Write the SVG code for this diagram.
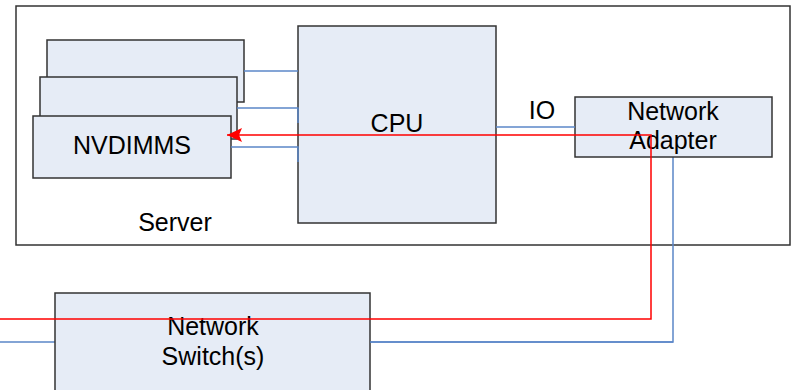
<svg xmlns="http://www.w3.org/2000/svg" width="792" height="390" viewBox="0 0 792 390">
  <style>
    .box { fill: #E6ECF6; stroke: #333333; stroke-width: 1.5; }
    .frame { fill: #FFFFFF; stroke: #333333; stroke-width: 1.5; }
    .link { fill: none; stroke: #5B87C8; stroke-width: 1.5; }
    .data { fill: none; stroke: #FF0000; stroke-width: 1.5; }
    text { font-family: "Liberation Sans", Arial, sans-serif; font-size: 25px; fill: #000000; text-anchor: middle; }
  </style>
  <defs>
    <marker id="redArrow" markerWidth="16" markerHeight="16" refX="15" refY="8" orient="auto" markerUnits="userSpaceOnUse">
      <path d="M15,8 L0,1 L3,8 L0,15 Z" fill="#FF0000"/>
    </marker>
  </defs>

  <rect width="792" height="390" fill="#FFFFFF"/>

  <!-- Server enclosure -->
  <g id="server">
    <rect class="frame" x="16" y="6" width="774" height="239"/>
    <text x="175" y="231">Server</text>
  </g>

  <!-- Connectors drawn beneath the boxes -->
  <g id="connectors-under">
    <!-- switch uplink to adapter, passes behind the switch -->
    <polyline class="link" points="0,342 673,342 673,157"/>
  </g>

  <g id="nvdimm-back">
    <rect class="box" x="47" y="40" width="197" height="62"/>
  </g>
  <g id="nvdimm-middle">
    <rect class="box" x="40" y="77" width="197" height="62"/>
  </g>
  <g id="nvdimm-front">
    <rect class="box" x="33" y="116" width="198" height="62"/>
    <text x="132" y="154">NVDIMMS</text>
  </g>

  <g id="cpu">
    <rect class="box" x="298" y="26" width="198" height="197"/>
    <text x="397" y="132">CPU</text>
  </g>

  <g id="network-adapter">
    <rect class="box" x="575" y="97" width="197" height="60"/>
    <text x="673" y="120">Network</text>
    <text x="673" y="149">Adapter</text>
  </g>

  <g id="network-switch">
    <rect class="box" x="55" y="293" width="315" height="110"/>
    <text x="213" y="335">Network</text>
    <text x="213" y="365">Switch(s)</text>
  </g>

  <g id="connectors">
    <!-- memory channels -->
    <line class="link" x1="244" y1="71" x2="298" y2="71"/>
    <polyline class="link" points="237,108 298,108 298,123"/>
    <polyline class="link" points="231,147 298,147 298,162"/>
    <!-- IO bus -->
    <line class="link" x1="496" y1="127" x2="575" y2="127"/>
    <text x="542" y="119">IO</text>
    <!-- switch stub on the right -->
    <line class="link" x1="370" y1="342" x2="673" y2="342"/>
    <!-- data path: network into persistent memory -->
    <polyline class="data" points="0,319 651,319 651,135 227,135" marker-end="url(#redArrow)"/>
  </g>
</svg>
